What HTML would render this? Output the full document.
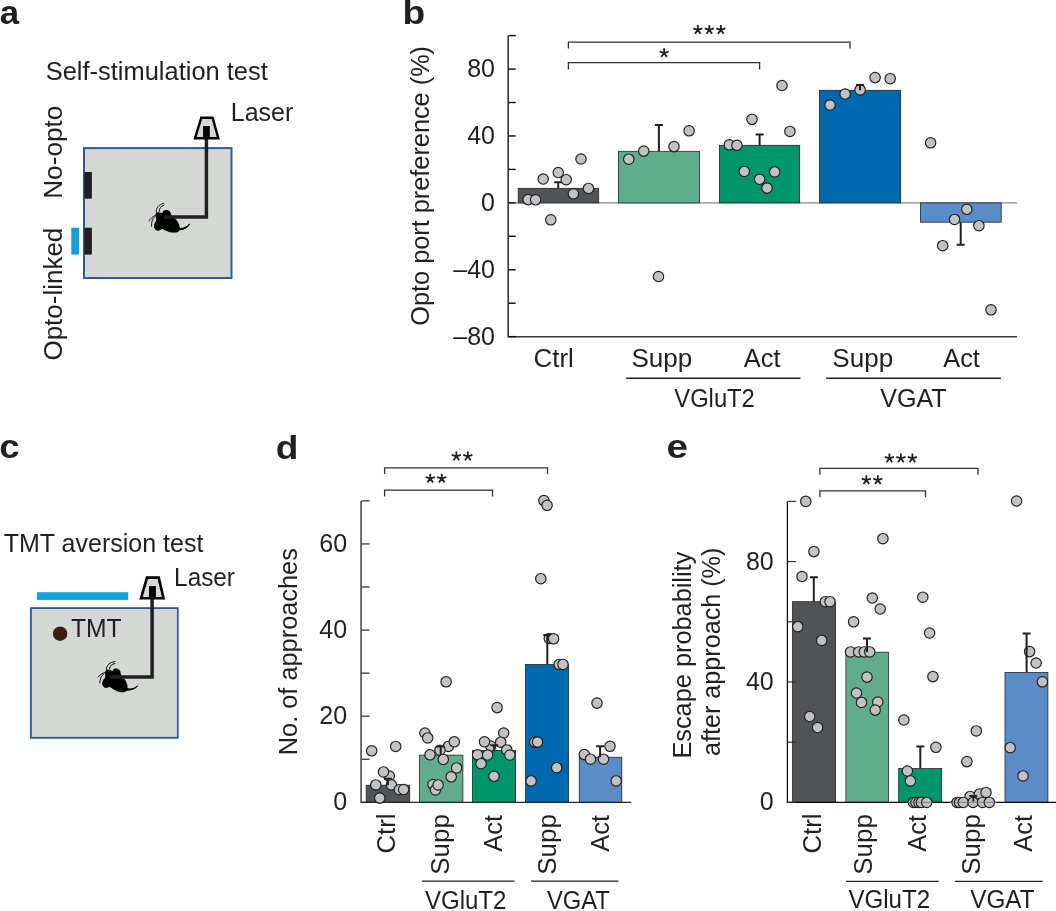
<!DOCTYPE html>
<html><head><meta charset="utf-8"><style>
html,body{margin:0;padding:0;background:#fff;}
svg{display:block;will-change:transform;}
text{font-family:"Liberation Sans",sans-serif;}
</style></head><body>
<svg width="1056" height="911" viewBox="0 0 1056 911">
<rect width="1056" height="911" fill="#fff"/>
<text font-size="33" font-weight="bold" fill="#231f20" transform="translate(-0.20,23.55) scale(1.057,1)">a</text>
<text transform="translate(45.73,79.60) scale(1.0185,1)" font-size="25" font-weight="normal" fill="#231f20">Self-stimulation test</text>
<text x="230.75" y="120.50" font-size="25" font-weight="normal" fill="#231f20">Laser</text>
<text transform="translate(61.90,198.85) rotate(-90) scale(1.0483,1)" font-size="25" fill="#231f20">No-opto</text>
<text transform="translate(61.90,360.55) rotate(-90) scale(1.0396,1)" font-size="25" fill="#231f20">Opto-linked</text>
<rect x="84.0" y="148.1" width="147.5" height="129.9" fill="#d5d7d5" stroke="#2a5ba1" stroke-width="2.0"/>
<rect x="84.3" y="172" width="7.6" height="26.7" fill="#231f20"/>
<rect x="84.3" y="227.7" width="7.6" height="26.9" fill="#231f20"/>
<rect x="71.3" y="227.7" width="7.9" height="26.9" fill="#12a1da"/>
<g transform="translate(0,0) rotate(0,167,212.7)"><path d="M156.2,212.8 C157.3,212.3 158.4,212.3 159.4,212.4 C160.6,212.5 161.8,212.7 162.8,212.8 C162.7,212.1 162.9,211.5 163.4,211.1 C164.2,210.3 165.4,209.9 166.6,210 C168.2,210.1 169.6,210.9 170.2,211.9 C170.7,212.6 170.9,213.4 170.9,214.1 C171.4,215.2 172,216.2 172.6,217 C173.8,217.8 175,218.6 176,219.6 C176.9,220.5 177.6,221.5 178.1,222.6 C178.8,223.7 179.3,224.8 179.6,226 C179.9,227 179.9,228 179.8,229 C179.6,230 179.2,230.9 178.5,231.5 C177.8,232.1 176.9,232.5 176,232.6 C174.6,232.8 173.1,232.8 171.7,232.6 C170.4,232.4 169.1,232 167.9,231.5 C166.6,231 165.3,230.4 164,229.8 C163.2,229.5 162.3,229.2 161.5,229 C160.9,229.6 160.4,230.1 159.8,230.3 C158.8,230.7 157.7,230.8 156.8,230.5 C156,230.2 155.3,229.7 154.9,229 C154.3,228.2 154,227.3 154,226.4 C153.9,225.4 154.1,224.3 154.5,223.4 C154.9,222.6 155.4,221.9 155.9,221.3 C156.1,220.6 156.3,219.9 156.2,219.2 C156.1,218.2 155.6,217.2 155.5,216.2 C155.4,215 155.6,213.7 156.2,212.8 Z" fill="#000"/><path d="M179,227.9 C183.5,228.1 187,226.6 189.3,223.5 L190.1,224.3 C187.8,228 183.8,230.2 179.2,230.5 Z" fill="#000"/><path d="M156.3,212.3 C155.8,208 158.5,204.5 163.8,203.3 M159.3,211.6 C159,208.5 160.8,206 163.9,205.2 M155.6,215.3 C152.8,216.5 150.5,218.5 149.1,220.9 M154.5,216.8 C152.3,219 151.2,222.5 151.6,226.4" stroke="#000" stroke-width="0.9" fill="none" stroke-linecap="round"/></g>
<path d="M164.2,217 H206.4 V130" stroke="#231f20" stroke-width="3.5" fill="none" stroke-linejoin="miter"/>
<path d="M201.3,117.7H212.6L218.3,138.3H195.0Z" fill="#d5d7d5" stroke="#000" stroke-width="2.4" stroke-linejoin="miter"/>
<rect x="203.1" y="126" width="6.700000000000017" height="12.300000000000011" fill="#000"/>
<text font-size="33" font-weight="bold" fill="#231f20" transform="translate(402.42,23.90) scale(1.127,1)">b</text>
<line x1="508.2" y1="202.9" x2="1017" y2="202.9" stroke="#8a8a8a" stroke-width="1.1"/>
<rect x="518.2" y="188.3" width="80.50" height="14.60" fill="#505456" stroke="#262626" stroke-width="0.8"/>
<rect x="618.5" y="151.3" width="81.10" height="51.60" fill="#5fad8c" stroke="#262626" stroke-width="0.8"/>
<rect x="719.4" y="145.3" width="80.30" height="57.60" fill="#00966b" stroke="#262626" stroke-width="0.8"/>
<rect x="819.5" y="90.3" width="81.20" height="112.60" fill="#0069ae" stroke="#262626" stroke-width="0.8"/>
<rect x="920.4" y="202.9" width="80.80" height="19.30" fill="#5a8cc7" stroke="#262626" stroke-width="0.8"/>
<circle cx="528.1" cy="199.6" r="5.2" fill="#c1c2c4" stroke="#231f20" stroke-width="1.15"/>
<circle cx="535.6" cy="199.8" r="5.2" fill="#c1c2c4" stroke="#231f20" stroke-width="1.15"/>
<circle cx="543.2" cy="179" r="5.2" fill="#c1c2c4" stroke="#231f20" stroke-width="1.15"/>
<circle cx="558.3" cy="172.5" r="5.2" fill="#c1c2c4" stroke="#231f20" stroke-width="1.15"/>
<circle cx="573.4" cy="193.8" r="5.2" fill="#c1c2c4" stroke="#231f20" stroke-width="1.15"/>
<circle cx="588.5" cy="188.4" r="5.2" fill="#c1c2c4" stroke="#231f20" stroke-width="1.15"/>
<circle cx="581" cy="159" r="5.2" fill="#c1c2c4" stroke="#231f20" stroke-width="1.15"/>
<circle cx="550.8" cy="219.8" r="5.2" fill="#c1c2c4" stroke="#231f20" stroke-width="1.15"/>
<circle cx="628.75" cy="159.2" r="5.2" fill="#c1c2c4" stroke="#231f20" stroke-width="1.15"/>
<circle cx="643.75" cy="151.1" r="5.2" fill="#c1c2c4" stroke="#231f20" stroke-width="1.15"/>
<circle cx="674" cy="146.6" r="5.2" fill="#c1c2c4" stroke="#231f20" stroke-width="1.15"/>
<circle cx="689.1" cy="130.8" r="5.2" fill="#c1c2c4" stroke="#231f20" stroke-width="1.15"/>
<circle cx="658.5" cy="276.5" r="5.2" fill="#c1c2c4" stroke="#231f20" stroke-width="1.15"/>
<circle cx="729.3" cy="144.8" r="5.2" fill="#c1c2c4" stroke="#231f20" stroke-width="1.15"/>
<circle cx="736.9" cy="145.3" r="5.2" fill="#c1c2c4" stroke="#231f20" stroke-width="1.15"/>
<circle cx="752" cy="119.3" r="5.2" fill="#c1c2c4" stroke="#231f20" stroke-width="1.15"/>
<circle cx="782" cy="85.5" r="5.2" fill="#c1c2c4" stroke="#231f20" stroke-width="1.15"/>
<circle cx="789.9" cy="131.4" r="5.2" fill="#c1c2c4" stroke="#231f20" stroke-width="1.15"/>
<circle cx="744.3" cy="171.4" r="5.2" fill="#c1c2c4" stroke="#231f20" stroke-width="1.15"/>
<circle cx="774.7" cy="171.9" r="5.2" fill="#c1c2c4" stroke="#231f20" stroke-width="1.15"/>
<circle cx="759.6" cy="179.3" r="5.2" fill="#c1c2c4" stroke="#231f20" stroke-width="1.15"/>
<circle cx="767" cy="188.1" r="5.2" fill="#c1c2c4" stroke="#231f20" stroke-width="1.15"/>
<circle cx="830" cy="105" r="5.2" fill="#c1c2c4" stroke="#231f20" stroke-width="1.15"/>
<circle cx="845.1" cy="94" r="5.2" fill="#c1c2c4" stroke="#231f20" stroke-width="1.15"/>
<circle cx="860.1" cy="89.9" r="5.2" fill="#c1c2c4" stroke="#231f20" stroke-width="1.15"/>
<circle cx="875.1" cy="77.6" r="5.2" fill="#c1c2c4" stroke="#231f20" stroke-width="1.15"/>
<circle cx="890.2" cy="78.7" r="5.2" fill="#c1c2c4" stroke="#231f20" stroke-width="1.15"/>
<circle cx="930.6" cy="142.8" r="5.2" fill="#c1c2c4" stroke="#231f20" stroke-width="1.15"/>
<circle cx="966.8" cy="209.3" r="5.2" fill="#c1c2c4" stroke="#231f20" stroke-width="1.15"/>
<circle cx="954.5" cy="219.4" r="5.2" fill="#c1c2c4" stroke="#231f20" stroke-width="1.15"/>
<circle cx="978.9" cy="225.7" r="5.2" fill="#c1c2c4" stroke="#231f20" stroke-width="1.15"/>
<circle cx="942.7" cy="245.7" r="5.2" fill="#c1c2c4" stroke="#231f20" stroke-width="1.15"/>
<circle cx="991" cy="309.8" r="5.2" fill="#c1c2c4" stroke="#231f20" stroke-width="1.15"/>
<path d="M558.2,188.3V182.3M554.2,182.3H562.2" stroke="#231f20" stroke-width="2.0" fill="none"/>
<path d="M658.9,151.3V124.9M654.9,124.9H662.9" stroke="#231f20" stroke-width="2.0" fill="none"/>
<path d="M759.6,145.3V134.6M755.6,134.6H763.6" stroke="#231f20" stroke-width="2.0" fill="none"/>
<path d="M860.0,90.3V84.9M856.0,84.9H864.0" stroke="#231f20" stroke-width="2.0" fill="none"/>
<path d="M960.7,222.2V244.8M956.7,244.8H964.7" stroke="#231f20" stroke-width="2.0" fill="none"/>
<circle cx="566.2" cy="179.7" r="5.2" fill="#c1c2c4" stroke="#231f20" stroke-width="1.15"/>
<path d="M508.2,35.4 V336.7 H1017" stroke="#363636" stroke-width="1.6" fill="none"/>
<line x1="508.6" y1="35.60" x2="515.7" y2="35.60" stroke="#080808" stroke-width="1.4"/>
<line x1="508.6" y1="69.05" x2="515.7" y2="69.05" stroke="#080808" stroke-width="1.4"/>
<line x1="508.6" y1="102.50" x2="515.7" y2="102.50" stroke="#080808" stroke-width="1.4"/>
<line x1="508.6" y1="135.95" x2="515.7" y2="135.95" stroke="#080808" stroke-width="1.4"/>
<line x1="508.6" y1="169.40" x2="515.7" y2="169.40" stroke="#080808" stroke-width="1.4"/>
<line x1="508.6" y1="202.85" x2="515.7" y2="202.85" stroke="#080808" stroke-width="1.4"/>
<line x1="508.6" y1="236.30" x2="515.7" y2="236.30" stroke="#080808" stroke-width="1.4"/>
<line x1="508.6" y1="269.75" x2="515.7" y2="269.75" stroke="#080808" stroke-width="1.4"/>
<line x1="508.6" y1="303.20" x2="515.7" y2="303.20" stroke="#080808" stroke-width="1.4"/>
<line x1="508.6" y1="336.65" x2="515.7" y2="336.65" stroke="#080808" stroke-width="1.4"/>
<text x="467.15" y="76.70" font-size="25" font-weight="normal" fill="#231f20">80</text>
<text x="467.15" y="143.70" font-size="25" font-weight="normal" fill="#231f20">40</text>
<text x="481.05" y="211.00" font-size="25" font-weight="normal" fill="#231f20">0</text>
<text x="453.25" y="277.70" font-size="25" font-weight="normal" fill="#231f20">–40</text>
<text x="453.25" y="344.80" font-size="25" font-weight="normal" fill="#231f20">–80</text>
<text transform="translate(428.50,325.71) rotate(-90) scale(1.0122,1)" font-size="25" fill="#231f20">Opto port preference (%)</text>
<text transform="translate(533.50,366.90) scale(1.0361,1)" font-size="25" font-weight="normal" fill="#231f20">Ctrl</text>
<text transform="translate(631.40,366.90) scale(1.0427,1)" font-size="25" font-weight="normal" fill="#231f20">Supp</text>
<text transform="translate(743.85,366.90) scale(1.0139,1)" font-size="25" font-weight="normal" fill="#231f20">Act</text>
<text transform="translate(832.30,366.90) scale(1.0427,1)" font-size="25" font-weight="normal" fill="#231f20">Supp</text>
<text transform="translate(943.25,366.90) scale(1.0139,1)" font-size="25" font-weight="normal" fill="#231f20">Act</text>
<path d="M626.2,378.3 H800.5 M826.1,378.3 H1000.9" stroke="#231f20" stroke-width="1.4"/>
<text transform="translate(674.30,407.20) scale(0.9508,1)" font-size="25" font-weight="normal" fill="#231f20">VGluT2</text>
<text transform="translate(880.20,407.20) scale(1.0053,1)" font-size="25" font-weight="normal" fill="#231f20">VGAT</text>
<path d="M568.4,48.6V42.2H850.0V48.6" stroke="#333" stroke-width="1.3" fill="none"/>
<path d="M568.4,69.4V62.7H759.6V69.4" stroke="#333" stroke-width="1.3" fill="none"/>
<path d="M697.80,29.90L697.80,25.10M697.80,29.90L702.37,28.42M697.80,29.90L700.62,33.78M697.80,29.90L694.98,33.78M697.80,29.90L693.23,28.42" stroke="#231f20" stroke-width="1.8" stroke-linecap="butt" fill="none"/>
<path d="M709.30,29.90L709.30,25.10M709.30,29.90L713.87,28.42M709.30,29.90L712.12,33.78M709.30,29.90L706.48,33.78M709.30,29.90L704.73,28.42" stroke="#231f20" stroke-width="1.8" stroke-linecap="butt" fill="none"/>
<path d="M720.80,29.90L720.80,25.10M720.80,29.90L725.37,28.42M720.80,29.90L723.62,33.78M720.80,29.90L717.98,33.78M720.80,29.90L716.23,28.42" stroke="#231f20" stroke-width="1.8" stroke-linecap="butt" fill="none"/>
<path d="M664.10,53.00L664.10,48.20M664.10,53.00L668.67,51.52M664.10,53.00L666.92,56.88M664.10,53.00L661.28,56.88M664.10,53.00L659.53,51.52" stroke="#231f20" stroke-width="1.8" stroke-linecap="butt" fill="none"/>
<text font-size="33" font-weight="bold" fill="#231f20" transform="translate(-0.74,457.75) scale(1.11,1)">c</text>
<text x="3.75" y="552.00" font-size="25" font-weight="normal" fill="#231f20">TMT aversion test</text>
<text transform="translate(174.10,585.70) scale(0.9742,1)" font-size="25" font-weight="normal" fill="#231f20">Laser</text>
<rect x="36.9" y="592.2" width="91.3" height="7.7" fill="#12a1da"/>
<rect x="30.9" y="608.1" width="146.9" height="129.7" fill="#d5d7d5" stroke="#2a5ba1" stroke-width="1.8"/>
<circle cx="60.1" cy="633.7" r="7.2" fill="#3e1f0b"/>
<text transform="translate(70.96,637.00) scale(0.9871,1)" font-size="25" font-weight="normal" fill="#231f20">TMT</text>
<g transform="translate(-50.1,458.7) rotate(8,167,212.7)"><path d="M156.2,212.8 C157.3,212.3 158.4,212.3 159.4,212.4 C160.6,212.5 161.8,212.7 162.8,212.8 C162.7,212.1 162.9,211.5 163.4,211.1 C164.2,210.3 165.4,209.9 166.6,210 C168.2,210.1 169.6,210.9 170.2,211.9 C170.7,212.6 170.9,213.4 170.9,214.1 C171.4,215.2 172,216.2 172.6,217 C173.8,217.8 175,218.6 176,219.6 C176.9,220.5 177.6,221.5 178.1,222.6 C178.8,223.7 179.3,224.8 179.6,226 C179.9,227 179.9,228 179.8,229 C179.6,230 179.2,230.9 178.5,231.5 C177.8,232.1 176.9,232.5 176,232.6 C174.6,232.8 173.1,232.8 171.7,232.6 C170.4,232.4 169.1,232 167.9,231.5 C166.6,231 165.3,230.4 164,229.8 C163.2,229.5 162.3,229.2 161.5,229 C160.9,229.6 160.4,230.1 159.8,230.3 C158.8,230.7 157.7,230.8 156.8,230.5 C156,230.2 155.3,229.7 154.9,229 C154.3,228.2 154,227.3 154,226.4 C153.9,225.4 154.1,224.3 154.5,223.4 C154.9,222.6 155.4,221.9 155.9,221.3 C156.1,220.6 156.3,219.9 156.2,219.2 C156.1,218.2 155.6,217.2 155.5,216.2 C155.4,215 155.6,213.7 156.2,212.8 Z" fill="#000"/><path d="M179,227.9 C183.5,228.1 187,226.6 189.3,223.5 L190.1,224.3 C187.8,228 183.8,230.2 179.2,230.5 Z" fill="#000"/><path d="M156.3,212.3 C155.8,208 158.5,204.5 163.8,203.3 M159.3,211.6 C159,208.5 160.8,206 163.9,205.2 M155.6,215.3 C152.8,216.5 150.5,218.5 149.1,220.9 M154.5,216.8 C152.3,219 151.2,222.5 151.6,226.4" stroke="#000" stroke-width="0.9" fill="none" stroke-linecap="round"/></g>
<path d="M109.8,676.9 H152.1 V590" stroke="#231f20" stroke-width="3.5" fill="none"/>
<path d="M147.0,577.6H158.7L163.5,598.3H141.0Z" fill="#d5d7d5" stroke="#000" stroke-width="2.6" stroke-linejoin="miter"/>
<rect x="149.0" y="586.1" width="6.900000000000006" height="12.199999999999932" fill="#000"/>
<text font-size="33" font-weight="bold" fill="#231f20" transform="translate(275.68,459.10) scale(1.123,1)">d</text>
<rect x="366.2" y="785.2" width="43.50" height="17.10" fill="#505456" stroke="#262626" stroke-width="0.8"/>
<rect x="419.5" y="755.1" width="43.40" height="47.20" fill="#5fad8c" stroke="#262626" stroke-width="0.8"/>
<rect x="472.5" y="750.4" width="43.10" height="51.90" fill="#00966b" stroke="#262626" stroke-width="0.8"/>
<rect x="525.5" y="664.4" width="43.10" height="137.90" fill="#0069ae" stroke="#262626" stroke-width="0.8"/>
<rect x="579.3" y="757.3" width="42.50" height="45.00" fill="#5a8cc7" stroke="#262626" stroke-width="0.8"/>
<path d="M361.1,500.9 V802.3" stroke="#555558" stroke-width="1.7" fill="none"/>
<path d="M360.5,802.3 H631.2" stroke="#262626" stroke-width="1.3" fill="none"/>
<circle cx="371.7" cy="750.8" r="5.2" fill="#c1c2c4" stroke="#231f20" stroke-width="1.15"/>
<circle cx="395.7" cy="746.4" r="5.2" fill="#c1c2c4" stroke="#231f20" stroke-width="1.15"/>
<circle cx="389.3" cy="776.1" r="5.2" fill="#c1c2c4" stroke="#231f20" stroke-width="1.15"/>
<circle cx="383.5" cy="771.9" r="5.2" fill="#c1c2c4" stroke="#231f20" stroke-width="1.15"/>
<circle cx="375.8" cy="784.9" r="5.2" fill="#c1c2c4" stroke="#231f20" stroke-width="1.15"/>
<circle cx="391.4" cy="784.9" r="5.2" fill="#c1c2c4" stroke="#231f20" stroke-width="1.15"/>
<circle cx="399.4" cy="789.7" r="5.2" fill="#c1c2c4" stroke="#231f20" stroke-width="1.15"/>
<circle cx="403.6" cy="789.5" r="5.2" fill="#c1c2c4" stroke="#231f20" stroke-width="1.15"/>
<circle cx="379.8" cy="798.1" r="5.2" fill="#c1c2c4" stroke="#231f20" stroke-width="1.15"/>
<circle cx="446.1" cy="681.8" r="5.2" fill="#c1c2c4" stroke="#231f20" stroke-width="1.15"/>
<circle cx="424.9" cy="733" r="5.2" fill="#c1c2c4" stroke="#231f20" stroke-width="1.15"/>
<circle cx="427.7" cy="737.9" r="5.2" fill="#c1c2c4" stroke="#231f20" stroke-width="1.15"/>
<circle cx="448.4" cy="746.4" r="5.2" fill="#c1c2c4" stroke="#231f20" stroke-width="1.15"/>
<circle cx="454.3" cy="741.8" r="5.2" fill="#c1c2c4" stroke="#231f20" stroke-width="1.15"/>
<circle cx="440" cy="750.2" r="5.2" fill="#c1c2c4" stroke="#231f20" stroke-width="1.15"/>
<circle cx="430" cy="754.8" r="5.2" fill="#c1c2c4" stroke="#231f20" stroke-width="1.15"/>
<circle cx="443.3" cy="759.4" r="5.2" fill="#c1c2c4" stroke="#231f20" stroke-width="1.15"/>
<circle cx="456.6" cy="767.9" r="5.2" fill="#c1c2c4" stroke="#231f20" stroke-width="1.15"/>
<circle cx="451.2" cy="776.8" r="5.2" fill="#c1c2c4" stroke="#231f20" stroke-width="1.15"/>
<circle cx="433" cy="784.5" r="5.2" fill="#c1c2c4" stroke="#231f20" stroke-width="1.15"/>
<circle cx="435.4" cy="789.9" r="5.2" fill="#c1c2c4" stroke="#231f20" stroke-width="1.15"/>
<circle cx="438.1" cy="784.9" r="5.2" fill="#c1c2c4" stroke="#231f20" stroke-width="1.15"/>
<circle cx="497.1" cy="707.6" r="5.2" fill="#c1c2c4" stroke="#231f20" stroke-width="1.15"/>
<circle cx="503.7" cy="733" r="5.2" fill="#c1c2c4" stroke="#231f20" stroke-width="1.15"/>
<circle cx="490.7" cy="746.1" r="5.2" fill="#c1c2c4" stroke="#231f20" stroke-width="1.15"/>
<circle cx="484.5" cy="741.8" r="5.2" fill="#c1c2c4" stroke="#231f20" stroke-width="1.15"/>
<circle cx="500.7" cy="742.2" r="5.2" fill="#c1c2c4" stroke="#231f20" stroke-width="1.15"/>
<circle cx="506.8" cy="749.9" r="5.2" fill="#c1c2c4" stroke="#231f20" stroke-width="1.15"/>
<circle cx="477.6" cy="754.8" r="5.2" fill="#c1c2c4" stroke="#231f20" stroke-width="1.15"/>
<circle cx="487.6" cy="755" r="5.2" fill="#c1c2c4" stroke="#231f20" stroke-width="1.15"/>
<circle cx="509.9" cy="755" r="5.2" fill="#c1c2c4" stroke="#231f20" stroke-width="1.15"/>
<circle cx="481.1" cy="763.7" r="5.2" fill="#c1c2c4" stroke="#231f20" stroke-width="1.15"/>
<circle cx="494" cy="776.3" r="5.2" fill="#c1c2c4" stroke="#231f20" stroke-width="1.15"/>
<circle cx="543.9" cy="500.6" r="5.2" fill="#c1c2c4" stroke="#231f20" stroke-width="1.15"/>
<circle cx="547.1" cy="505.3" r="5.2" fill="#c1c2c4" stroke="#231f20" stroke-width="1.15"/>
<circle cx="540.8" cy="578.7" r="5.2" fill="#c1c2c4" stroke="#231f20" stroke-width="1.15"/>
<circle cx="549.3" cy="638.4" r="5.2" fill="#c1c2c4" stroke="#231f20" stroke-width="1.15"/>
<circle cx="559.2" cy="664.4" r="5.2" fill="#c1c2c4" stroke="#231f20" stroke-width="1.15"/>
<circle cx="563" cy="664.4" r="5.2" fill="#c1c2c4" stroke="#231f20" stroke-width="1.15"/>
<circle cx="534.8" cy="742.1" r="5.2" fill="#c1c2c4" stroke="#231f20" stroke-width="1.15"/>
<circle cx="537.5" cy="742.1" r="5.2" fill="#c1c2c4" stroke="#231f20" stroke-width="1.15"/>
<circle cx="556.7" cy="767.7" r="5.2" fill="#c1c2c4" stroke="#231f20" stroke-width="1.15"/>
<circle cx="531.1" cy="780.9" r="5.2" fill="#c1c2c4" stroke="#231f20" stroke-width="1.15"/>
<circle cx="597" cy="703.1" r="5.2" fill="#c1c2c4" stroke="#231f20" stroke-width="1.15"/>
<circle cx="610" cy="746.3" r="5.2" fill="#c1c2c4" stroke="#231f20" stroke-width="1.15"/>
<circle cx="584.3" cy="754.6" r="5.2" fill="#c1c2c4" stroke="#231f20" stroke-width="1.15"/>
<circle cx="590.5" cy="759.2" r="5.2" fill="#c1c2c4" stroke="#231f20" stroke-width="1.15"/>
<circle cx="603.5" cy="759.2" r="5.2" fill="#c1c2c4" stroke="#231f20" stroke-width="1.15"/>
<circle cx="616.2" cy="780.9" r="5.2" fill="#c1c2c4" stroke="#231f20" stroke-width="1.15"/>
<path d="M387.9,785.2V778.7M383.9,778.7H391.9" stroke="#231f20" stroke-width="2.0" fill="none"/>
<path d="M440.7,755.1V746.4M436.7,746.4H444.7" stroke="#231f20" stroke-width="2.0" fill="none"/>
<path d="M494.2,750.4V745.3M490.2,745.3H498.2" stroke="#231f20" stroke-width="2.0" fill="none"/>
<path d="M547.3,664.4V635.0M543.3,635.0H551.3" stroke="#231f20" stroke-width="2.0" fill="none"/>
<path d="M600.1,757.3V746.3M596.1,746.3H604.1" stroke="#231f20" stroke-width="2.0" fill="none"/>
<circle cx="553.6" cy="638.8" r="5.2" fill="#c1c2c4" stroke="#231f20" stroke-width="1.15"/>
<line x1="361.5" y1="802.30" x2="369.6" y2="802.30" stroke="#231f20" stroke-width="1.15"/>
<line x1="361.5" y1="759.24" x2="369.6" y2="759.24" stroke="#231f20" stroke-width="1.15"/>
<line x1="361.5" y1="716.18" x2="369.6" y2="716.18" stroke="#231f20" stroke-width="1.15"/>
<line x1="361.5" y1="673.12" x2="369.6" y2="673.12" stroke="#231f20" stroke-width="1.15"/>
<line x1="361.5" y1="630.06" x2="369.6" y2="630.06" stroke="#231f20" stroke-width="1.15"/>
<line x1="361.5" y1="587.00" x2="369.6" y2="587.00" stroke="#231f20" stroke-width="1.15"/>
<line x1="361.5" y1="543.94" x2="369.6" y2="543.94" stroke="#231f20" stroke-width="1.15"/>
<line x1="361.5" y1="500.88" x2="369.6" y2="500.88" stroke="#231f20" stroke-width="1.15"/>
<text x="319.35" y="552.00" font-size="25" font-weight="normal" fill="#231f20">60</text>
<text x="319.35" y="638.20" font-size="25" font-weight="normal" fill="#231f20">40</text>
<text x="319.35" y="724.30" font-size="25" font-weight="normal" fill="#231f20">20</text>
<text x="333.25" y="810.40" font-size="25" font-weight="normal" fill="#231f20">0</text>
<text transform="translate(296.60,755.18) rotate(-90) scale(1.0142,1)" font-size="25" fill="#231f20">No. of approaches</text>
<text transform="translate(394.70,853.59) rotate(-90) scale(1.0306,1)" font-size="25" fill="#231f20">Ctrl</text>
<text transform="translate(449.00,874.69) rotate(-90) scale(1.0374,1)" font-size="25" fill="#231f20">Supp</text>
<text transform="translate(502.40,851.65) rotate(-90) scale(1.0139,1)" font-size="25" fill="#231f20">Act</text>
<text transform="translate(555.60,874.69) rotate(-90) scale(1.0374,1)" font-size="25" fill="#231f20">Supp</text>
<text transform="translate(608.50,851.65) rotate(-90) scale(1.0139,1)" font-size="25" fill="#231f20">Act</text>
<path d="M421.8,881.2 H514.6 M531,881.2 H618.5" stroke="#231f20" stroke-width="1.3"/>
<text transform="translate(424.90,909.00) scale(0.9628,1)" font-size="25" font-weight="normal" fill="#231f20">VGluT2</text>
<text transform="translate(546.90,909.00) scale(0.9504,1)" font-size="25" font-weight="normal" fill="#231f20">VGAT</text>
<path d="M384.6,474.1V467.8H547.5V474.1" stroke="#333" stroke-width="1.3" fill="none"/>
<path d="M384.6,496.4V490.2H492.5V496.4" stroke="#333" stroke-width="1.3" fill="none"/>
<path d="M456.35,456.30L456.35,451.50M456.35,456.30L460.92,454.82M456.35,456.30L459.17,460.18M456.35,456.30L453.53,460.18M456.35,456.30L451.78,454.82" stroke="#231f20" stroke-width="1.8" stroke-linecap="butt" fill="none"/>
<path d="M467.85,456.30L467.85,451.50M467.85,456.30L472.42,454.82M467.85,456.30L470.67,460.18M467.85,456.30L465.03,460.18M467.85,456.30L463.28,454.82" stroke="#231f20" stroke-width="1.8" stroke-linecap="butt" fill="none"/>
<path d="M430.25,478.50L430.25,473.70M430.25,478.50L434.82,477.02M430.25,478.50L433.07,482.38M430.25,478.50L427.43,482.38M430.25,478.50L425.68,477.02" stroke="#231f20" stroke-width="1.8" stroke-linecap="butt" fill="none"/>
<path d="M441.75,478.50L441.75,473.70M441.75,478.50L446.32,477.02M441.75,478.50L444.57,482.38M441.75,478.50L438.93,482.38M441.75,478.50L437.18,477.02" stroke="#231f20" stroke-width="1.8" stroke-linecap="butt" fill="none"/>
<text font-size="33" font-weight="bold" fill="#231f20" transform="translate(666.58,457.95) scale(1.17,1)">e</text>
<rect x="792.6" y="601.7" width="43.00" height="200.60" fill="#505456" stroke="#262626" stroke-width="0.8"/>
<rect x="845.9" y="652.2" width="42.50" height="150.10" fill="#5fad8c" stroke="#262626" stroke-width="0.8"/>
<rect x="898.7" y="768.6" width="43.00" height="33.70" fill="#00966b" stroke="#262626" stroke-width="0.8"/>
<rect x="951.5" y="801.6" width="42.50" height="0.70" fill="#0069ae" stroke="#262626" stroke-width="0.8"/>
<rect x="1005.0" y="672.5" width="42.90" height="129.80" fill="#5a8cc7" stroke="#262626" stroke-width="0.8"/>
<path d="M787.4,501.4 V802.3 H1056" stroke="#080808" stroke-width="1.25" fill="none"/>
<circle cx="805.8" cy="501.4" r="5.2" fill="#c1c2c4" stroke="#231f20" stroke-width="1.15"/>
<circle cx="813.9" cy="551.6" r="5.2" fill="#c1c2c4" stroke="#231f20" stroke-width="1.15"/>
<circle cx="802" cy="576.5" r="5.2" fill="#c1c2c4" stroke="#231f20" stroke-width="1.15"/>
<circle cx="825.3" cy="601.7" r="5.2" fill="#c1c2c4" stroke="#231f20" stroke-width="1.15"/>
<circle cx="830" cy="601.7" r="5.2" fill="#c1c2c4" stroke="#231f20" stroke-width="1.15"/>
<circle cx="797.8" cy="626.7" r="5.2" fill="#c1c2c4" stroke="#231f20" stroke-width="1.15"/>
<circle cx="821.7" cy="640.4" r="5.2" fill="#c1c2c4" stroke="#231f20" stroke-width="1.15"/>
<circle cx="809.7" cy="716.5" r="5.2" fill="#c1c2c4" stroke="#231f20" stroke-width="1.15"/>
<circle cx="817.6" cy="727.5" r="5.2" fill="#c1c2c4" stroke="#231f20" stroke-width="1.15"/>
<circle cx="882.9" cy="538.7" r="5.2" fill="#c1c2c4" stroke="#231f20" stroke-width="1.15"/>
<circle cx="872.3" cy="598" r="5.2" fill="#c1c2c4" stroke="#231f20" stroke-width="1.15"/>
<circle cx="880.2" cy="609" r="5.2" fill="#c1c2c4" stroke="#231f20" stroke-width="1.15"/>
<circle cx="853.6" cy="621.8" r="5.2" fill="#c1c2c4" stroke="#231f20" stroke-width="1.15"/>
<circle cx="850.5" cy="651.9" r="5.2" fill="#c1c2c4" stroke="#231f20" stroke-width="1.15"/>
<circle cx="858.7" cy="651.9" r="5.2" fill="#c1c2c4" stroke="#231f20" stroke-width="1.15"/>
<circle cx="864.2" cy="651.9" r="5.2" fill="#c1c2c4" stroke="#231f20" stroke-width="1.15"/>
<circle cx="869.7" cy="651.9" r="5.2" fill="#c1c2c4" stroke="#231f20" stroke-width="1.15"/>
<circle cx="867" cy="677.1" r="5.2" fill="#c1c2c4" stroke="#231f20" stroke-width="1.15"/>
<circle cx="856.5" cy="693" r="5.2" fill="#c1c2c4" stroke="#231f20" stroke-width="1.15"/>
<circle cx="861.5" cy="702.4" r="5.2" fill="#c1c2c4" stroke="#231f20" stroke-width="1.15"/>
<circle cx="877.8" cy="702" r="5.2" fill="#c1c2c4" stroke="#231f20" stroke-width="1.15"/>
<circle cx="875.2" cy="710.1" r="5.2" fill="#c1c2c4" stroke="#231f20" stroke-width="1.15"/>
<circle cx="922.8" cy="597.2" r="5.2" fill="#c1c2c4" stroke="#231f20" stroke-width="1.15"/>
<circle cx="929.6" cy="633" r="5.2" fill="#c1c2c4" stroke="#231f20" stroke-width="1.15"/>
<circle cx="932.9" cy="676.6" r="5.2" fill="#c1c2c4" stroke="#231f20" stroke-width="1.15"/>
<circle cx="903.9" cy="720" r="5.2" fill="#c1c2c4" stroke="#231f20" stroke-width="1.15"/>
<circle cx="935.9" cy="747.3" r="5.2" fill="#c1c2c4" stroke="#231f20" stroke-width="1.15"/>
<circle cx="907.4" cy="771" r="5.2" fill="#c1c2c4" stroke="#231f20" stroke-width="1.15"/>
<circle cx="910.4" cy="780.9" r="5.2" fill="#c1c2c4" stroke="#231f20" stroke-width="1.15"/>
<circle cx="913.4" cy="802.4" r="5.2" fill="#c1c2c4" stroke="#231f20" stroke-width="1.15"/>
<circle cx="915.9" cy="802.4" r="5.2" fill="#c1c2c4" stroke="#231f20" stroke-width="1.15"/>
<circle cx="918.9" cy="802.4" r="5.2" fill="#c1c2c4" stroke="#231f20" stroke-width="1.15"/>
<circle cx="921.4" cy="802.4" r="5.2" fill="#c1c2c4" stroke="#231f20" stroke-width="1.15"/>
<circle cx="926.7" cy="802.4" r="5.2" fill="#c1c2c4" stroke="#231f20" stroke-width="1.15"/>
<circle cx="976.3" cy="730.9" r="5.2" fill="#c1c2c4" stroke="#231f20" stroke-width="1.15"/>
<circle cx="966.9" cy="761.6" r="5.2" fill="#c1c2c4" stroke="#231f20" stroke-width="1.15"/>
<circle cx="970.1" cy="796.4" r="5.2" fill="#c1c2c4" stroke="#231f20" stroke-width="1.15"/>
<circle cx="979.5" cy="793.9" r="5.2" fill="#c1c2c4" stroke="#231f20" stroke-width="1.15"/>
<circle cx="986" cy="792.4" r="5.2" fill="#c1c2c4" stroke="#231f20" stroke-width="1.15"/>
<circle cx="957.1" cy="802.4" r="5.2" fill="#c1c2c4" stroke="#231f20" stroke-width="1.15"/>
<circle cx="959.6" cy="802.4" r="5.2" fill="#c1c2c4" stroke="#231f20" stroke-width="1.15"/>
<circle cx="963.3" cy="802.4" r="5.2" fill="#c1c2c4" stroke="#231f20" stroke-width="1.15"/>
<circle cx="973.1" cy="802.4" r="5.2" fill="#c1c2c4" stroke="#231f20" stroke-width="1.15"/>
<circle cx="982.5" cy="802.4" r="5.2" fill="#c1c2c4" stroke="#231f20" stroke-width="1.15"/>
<circle cx="989.3" cy="802.4" r="5.2" fill="#c1c2c4" stroke="#231f20" stroke-width="1.15"/>
<circle cx="1016.6" cy="501" r="5.2" fill="#c1c2c4" stroke="#231f20" stroke-width="1.15"/>
<circle cx="1029.6" cy="651.6" r="5.2" fill="#c1c2c4" stroke="#231f20" stroke-width="1.15"/>
<circle cx="1036.1" cy="663" r="5.2" fill="#c1c2c4" stroke="#231f20" stroke-width="1.15"/>
<circle cx="1042.4" cy="681.8" r="5.2" fill="#c1c2c4" stroke="#231f20" stroke-width="1.15"/>
<circle cx="1010.2" cy="747.7" r="5.2" fill="#c1c2c4" stroke="#231f20" stroke-width="1.15"/>
<circle cx="1023" cy="775.9" r="5.2" fill="#c1c2c4" stroke="#231f20" stroke-width="1.15"/>
<path d="M813.8,601.7V577.3M809.8,577.3H817.8" stroke="#231f20" stroke-width="2.0" fill="none"/>
<path d="M867.0,652.2V638.5M863.0,638.5H871.0" stroke="#231f20" stroke-width="2.0" fill="none"/>
<path d="M920.3,768.6V746.5M916.3,746.5H924.3" stroke="#231f20" stroke-width="2.0" fill="none"/>
<path d="M973.3,801.6V796.1M969.3,796.1H977.3" stroke="#231f20" stroke-width="2.0" fill="none"/>
<path d="M1026.6,672.5V633.4M1022.5999999999999,633.4H1030.6" stroke="#231f20" stroke-width="2.0" fill="none"/>
<path d="M906,802.3 H933 M950,802.3 H996" stroke="#666" stroke-width="0.7"/>
<line x1="787.6" y1="802.30" x2="795.9" y2="802.30" stroke="#333" stroke-width="1.2"/>
<line x1="787.6" y1="742.12" x2="795.9" y2="742.12" stroke="#333" stroke-width="1.2"/>
<line x1="787.6" y1="681.94" x2="795.9" y2="681.94" stroke="#333" stroke-width="1.2"/>
<line x1="787.6" y1="621.76" x2="795.9" y2="621.76" stroke="#333" stroke-width="1.2"/>
<line x1="787.6" y1="561.58" x2="795.9" y2="561.58" stroke="#333" stroke-width="1.2"/>
<line x1="787.6" y1="501.40" x2="795.9" y2="501.40" stroke="#333" stroke-width="1.2"/>
<text x="745.95" y="569.70" font-size="25" font-weight="normal" fill="#231f20">80</text>
<text x="745.95" y="690.10" font-size="25" font-weight="normal" fill="#231f20">40</text>
<text x="759.85" y="810.40" font-size="25" font-weight="normal" fill="#231f20">0</text>
<text transform="translate(691.10,758.58) rotate(-90) scale(1.0129,1)" font-size="25" fill="#231f20">Escape probability</text>
<text transform="translate(720.30,756.06) rotate(-90) scale(1.0068,1)" font-size="25" fill="#231f20">after approach (%)</text>
<text transform="translate(821.00,853.59) rotate(-90) scale(1.0306,1)" font-size="25" fill="#231f20">Ctrl</text>
<text transform="translate(871.50,874.69) rotate(-90) scale(1.0374,1)" font-size="25" fill="#231f20">Supp</text>
<text transform="translate(926.40,851.65) rotate(-90) scale(1.0139,1)" font-size="25" fill="#231f20">Act</text>
<text transform="translate(979.60,874.69) rotate(-90) scale(1.0374,1)" font-size="25" fill="#231f20">Supp</text>
<text transform="translate(1032.20,851.65) rotate(-90) scale(1.0139,1)" font-size="25" fill="#231f20">Act</text>
<path d="M846.1,881.3 H938.7 M955.1,881.3 H1042.7" stroke="#231f20" stroke-width="1.3"/>
<text transform="translate(848.40,907.50) scale(0.9652,1)" font-size="25" font-weight="normal" fill="#231f20">VGluT2</text>
<text transform="translate(970.20,907.50) scale(0.9718,1)" font-size="25" font-weight="normal" fill="#231f20">VGAT</text>
<path d="M819.9,474.7V468.4H977.9V474.7" stroke="#333" stroke-width="1.3" fill="none"/>
<path d="M819.9,497.2V490.9H925.5V497.2" stroke="#333" stroke-width="1.3" fill="none"/>
<path d="M889.40,458.30L889.40,453.50M889.40,458.30L893.97,456.82M889.40,458.30L892.22,462.18M889.40,458.30L886.58,462.18M889.40,458.30L884.83,456.82" stroke="#231f20" stroke-width="1.8" stroke-linecap="butt" fill="none"/>
<path d="M900.90,458.30L900.90,453.50M900.90,458.30L905.47,456.82M900.90,458.30L903.72,462.18M900.90,458.30L898.08,462.18M900.90,458.30L896.33,456.82" stroke="#231f20" stroke-width="1.8" stroke-linecap="butt" fill="none"/>
<path d="M912.40,458.30L912.40,453.50M912.40,458.30L916.97,456.82M912.40,458.30L915.22,462.18M912.40,458.30L909.58,462.18M912.40,458.30L907.83,456.82" stroke="#231f20" stroke-width="1.8" stroke-linecap="butt" fill="none"/>
<path d="M866.35,480.10L866.35,475.30M866.35,480.10L870.92,478.62M866.35,480.10L869.17,483.98M866.35,480.10L863.53,483.98M866.35,480.10L861.78,478.62" stroke="#231f20" stroke-width="1.8" stroke-linecap="butt" fill="none"/>
<path d="M877.85,480.10L877.85,475.30M877.85,480.10L882.42,478.62M877.85,480.10L880.67,483.98M877.85,480.10L875.03,483.98M877.85,480.10L873.28,478.62" stroke="#231f20" stroke-width="1.8" stroke-linecap="butt" fill="none"/>
</svg></body></html>
